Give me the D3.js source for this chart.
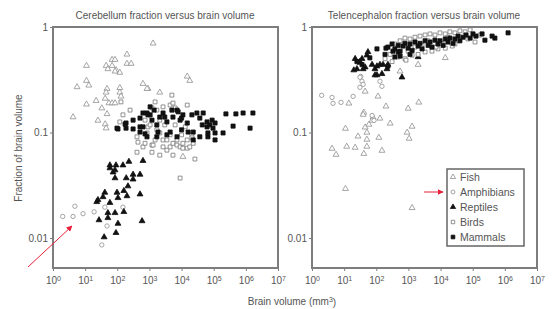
<!DOCTYPE html>
<html lang="en">
<head>
<meta charset="UTF-8">
<title>Cerebellum and telencephalon fraction</title>
<script src="https://d3js.org/d3.v7.min.js"></script>
<style>
  body { margin: 0; background: #fff; }
  text { font-family: "Liberation Sans", Arial, sans-serif; fill: #555; }
  .frame { fill: none; stroke: #7d7d7d; stroke-width: 2; }
  .tick line { stroke: #7d7d7d; }
  .domain { display: none; }
</style>
</head>
<body>
<script>
// [brain volume mm3, fraction]
var cerebFish = [[1300,0.70],[200,0.55],[69,0.49],[85,0.49],[200,0.45],[270,0.45],[11,0.43],[45,0.43],[51,0.40],[69,0.43],
  [92,0.39],[120,0.37],[85,0.38],[11,0.31],[13,0.28],[5.6,0.27],[630,0.29],[900,0.26],[48,0.26],[45,0.24],[120,0.265],
  [120,0.24],[130,0.22],[22,0.20],[42,0.21],[55,0.19],[69,0.19],[85,0.19],[11,0.185],[33,0.17],[4.2,0.14],[25,0.13],
  [42,0.12],[45,0.11],[48,0.15],[15000,0.34],[18000,0.31],[2100,0.24],[840,0.26],[11000,0.059]];
var cerebAmph = [[2.0,0.016],[4.2,0.016],[4.8,0.020],[8.6,0.017],[19,0.0177],[41,0.0196],[48,0.013],[33,0.0086],[150,0.0196]];
var cerebRept = [[59,0.049],[91,0.049],[59,0.046],[85,0.044],[74,0.042],[150,0.049],[230,0.053],[630,0.054],[85,0.037],
  [190,0.037],[310,0.040],[310,0.036],[510,0.040],[215,0.031],[160,0.028],[98,0.027],[105,0.024],[200,0.025],[510,0.026],
  [41,0.027],[36,0.0245],[25,0.023],[23,0.022],[59,0.0216],[85,0.0173],[51,0.0173],[51,0.0155],[27,0.0148],
  [160,0.0177],[105,0.0137],[91,0.0112],[39,0.0102],[590,0.0145]];
var cerebBird = [[130,0.195],[150,0.147],[120,0.126],[250,0.163],[410,0.091],[410,0.065],[440,0.081],[630,0.073],[730,0.079],
  [840,0.099],[900,0.113],[1200,0.171],[1200,0.076],[1200,0.065],[1300,0.076],[1500,0.195],[1500,0.085],[1700,0.163],
  [1700,0.106],[2100,0.099],[2100,0.061],[2650,0.175],[2650,0.085],[2650,0.073],[3500,0.085],[3500,0.068],[4400,0.182],
  [4400,0.095],[4400,0.073],[5000,0.226],[5400,0.19],[5400,0.079],[5400,0.061],[6300,0.171],[7200,0.085],[7200,0.076],
  [9000,0.073],[9000,0.037],[10000,0.095],[11000,0.079],[11000,0.071],[15000,0.182],[15000,0.085],[15000,0.071],
  [18000,0.073],[21000,0.095],[21000,0.089],[23000,0.079],[26000,0.056],[3000,0.118],[2100,0.131],[730,0.131],
  [1050,0.118],[6300,0.118],[13000,0.113]];
var cerebMamm = [[98,0.11],[105,0.108],[175,0.12],[187,0.123],[187,0.11],[310,0.131],[310,0.108],[510,0.137],[510,0.113],
  [510,0.101],[630,0.153],[630,0.113],[730,0.097],[840,0.153],[840,0.091],[900,0.147],[1050,0.175],[1050,0.147],[1200,0.131],
  [1400,0.163],[1700,0.118],[1700,0.091],[1850,0.101],[2100,0.14],[2650,0.153],[3000,0.14],[3500,0.126],[3500,0.095],
  [4400,0.101],[5000,0.163],[5400,0.14],[7200,0.163],[7200,0.091],[7800,0.157],[9000,0.131],[10000,0.137],[10000,0.106],
  [11000,0.147],[15000,0.123],[16000,0.101],[21000,0.147],[23000,0.101],[23000,0.085],[30000,0.153],[37000,0.137],
  [37000,0.091],[44000,0.118],[47000,0.153],[62000,0.126],[62000,0.113],[66000,0.099],[66000,0.091],[76000,0.118],
  [89000,0.131],[95000,0.11],[110000,0.123],[110000,0.099],[110000,0.085],[195000,0.099],[240000,0.15],[400000,0.115],
  [490000,0.15],[820000,0.153],[1350000,0.11],[1660000,0.153]];

var telFish = [[14,0.189],[200,0.177],[980,0.169],[2100,0.193],[41,0.155],[130,0.136],[270,0.122],[1300,0.114],[11,0.109],
  [45,0.112],[51,0.10],[27,0.092],[51,0.0858],[120,0.0895],[910,0.10],[1050,0.0877],[4.2,0.0704],[12,0.0736],[22,0.072],
  [51,0.0736],[150,0.0674],[5.6,0.0617],[41,0.063],[11,0.0293],[1300,0.0193],[14000,0.51],[2000,0.44],[550,0.38],
  [45,0.245],[39,0.148],[79,0.139],[59,0.119],[74,0.13],[113,0.22]];
var telAmph = [[2.0,0.225],[4.2,0.215],[4.5,0.189],[8.0,0.193],[19,0.22],[31,0.268],[36,0.306],[33,0.34],[39,0.286],
  [130,0.306],[150,0.274],[31,0.334],[74,0.145],[85,0.13]];
var telRept = [[25,0.40],[31,0.46],[36,0.50],[51,0.54],[55,0.58],[74,0.44],[45,0.416],[91,0.40],[105,0.35],[150,0.36],
  [630,0.334],[162,0.44],[230,0.44],[22,0.50],[20,0.39],[39,0.40],[105,0.425],[130,0.44],[91,0.35],[215,0.40],[2000,0.52],[31,0.47]];
var telBird = [[550,0.74],[780,0.785],[1120,0.77],[1600,0.80],[2300,0.82],[3300,0.84],[4700,0.86],[6700,0.84],[9600,0.88],
  [14000,0.86],[19500,0.90],[28000,0.88],[40000,0.92],[58000,0.90],[83000,0.94],[480,0.52],[780,0.50],[1300,0.54],
  [2000,0.55],[3300,0.58],[5400,0.59],[8300,0.62],[14000,0.63],[23000,0.66],[187,0.50],[310,0.47],[980,0.59],[2650,0.67],
  [7200,0.645],[17000,0.80],[35000,0.74],[71000,0.77],[118000,0.72],[840,0.485],[380,0.69],[270,0.55],[1600,0.645],
  [4100,0.74],[11000,0.70],[28000,0.69],[170000,0.84]];
var telMamm = [[25,0.47],[36,0.44],[105,0.62],[200,0.63],[330,0.59],[480,0.58],[230,0.645],[310,0.69],[380,0.62],[480,0.67],
  [550,0.59],[680,0.66],[780,0.70],[980,0.63],[1120,0.69],[1300,0.60],[1600,0.72],[2000,0.66],[2300,0.70],[2650,0.62],
  [3300,0.74],[4100,0.67],[4700,0.72],[5400,0.645],[6700,0.75],[8300,0.69],[9600,0.74],[12000,0.67],[14000,0.77],
  [17000,0.72],[19500,0.785],[24500,0.70],[28000,0.77],[35000,0.82],[40000,0.74],[50000,0.80],[62000,0.84],[83000,0.785],
  [102000,0.86],[126000,0.82],[187,0.55],[550,0.53],[1120,0.55],[380,0.52],[63,0.51],[230,0.425],
  [195000,0.86],[240000,0.75],[400000,0.82],[490000,0.785],[1260000,0.88]];

var groups = ["Fish", "Amphibians", "Reptiles", "Birds", "Mammals"];
var xTicks = [1, 1e1, 1e2, 1e3, 1e4, 1e5, 1e6, 1e7];
var yTicks = [1, 0.1, 0.01];

var svg = d3.select("body").append("svg").attr("width", 553).attr("height", 309);

var style = {
  Fish: {type: d3.symbolTriangle, size: 15, fill: "#fff", stroke: "#8f8f8f"},
  Amphibians: {type: d3.symbolCircle, size: 15, fill: "#fff", stroke: "#8f8f8f"},
  Reptiles: {type: d3.symbolTriangle, size: 15, fill: "#111", stroke: "#111"},
  Birds: {type: d3.symbolSquare, size: 15, fill: "#fff", stroke: "#777"},
  Mammals: {type: d3.symbolSquare, size: 17, fill: "#111", stroke: "#111"}
};

function panel(left, title, sets) {
  var x = d3.scaleLog().domain([1, 1e7]).range([left, left + 225]);
  var y = d3.scaleLog().domain([1, 0.01]).range([27, 238]);
  var g = svg.append("g");

  g.append("text").attr("x", left + 112).attr("y", 19).attr("text-anchor", "middle")
    .attr("font-size", 10).text(title);

  var xa = g.append("g").attr("transform", "translate(0,268)")
    .call(d3.axisBottom(x).tickValues(xTicks).tickSize(3).tickPadding(6));
  xa.selectAll(".tick text").attr("font-size", 10).text(null).each(function(d) {
    var t = d3.select(this);
    t.append("tspan").text("10");
    t.append("tspan").attr("dy", "-0.5em").attr("font-size", 7).text(Math.round(Math.log10(d)));
  });

  var ya = g.append("g").attr("transform", "translate(" + left + ",0)")
    .call(d3.axisLeft(y).tickValues(yTicks).tickSize(3).tickPadding(2).tickFormat(d3.format("")));
  ya.selectAll(".tick text").attr("font-size", 10);

  groups.forEach(function(name, i) {
    var s = style[name];
    var sym = d3.symbol().type(s.type).size(s.size);
    g.append("g").selectAll("path").data(sets[i]).enter().append("path")
      .attr("transform", function(d) { return "translate(" + x(d[0]) + "," + y(d[1]) + ")"; })
      .attr("d", sym)
      .attr("fill", s.fill).attr("stroke", s.stroke).attr("stroke-width", 0.8);
  });

  g.append("rect").attr("class", "frame").attr("x", left).attr("y", 27)
    .attr("width", 225).attr("height", 241);
}

panel(53, "Cerebellum fraction versus brain volume", [cerebFish, cerebAmph, cerebRept, cerebBird, cerebMamm]);
panel(312, "Telencephalon fraction versus brain volume", [telFish, telAmph, telRept, telBird, telMamm]);

// axis titles
svg.append("text").attr("transform", "translate(22,148) rotate(-90)").attr("text-anchor", "middle")
  .attr("font-size", 10).text("Fraction of brain volume");
var xl = svg.append("text").attr("x", 292).attr("y", 305).attr("text-anchor", "middle").attr("font-size", 10);
xl.append("tspan").text("Brain volume (mm");
xl.append("tspan").attr("dy", "-0.45em").attr("font-size", 7).text("3");
xl.append("tspan").attr("dy", "0.45em").text(")");

// legend
var lg = svg.append("g").attr("transform", "translate(447,169)");
lg.append("rect").attr("width", 77).attr("height", 77).attr("fill", "#fff")
  .attr("stroke", "#666").attr("stroke-width", 1.5);
groups.forEach(function(name, i) {
  var s = style[name];
  lg.append("path").attr("transform", "translate(6," + (8 + i * 15) + ")")
    .attr("d", d3.symbol().type(s.type).size(s.size * 0.8)())
    .attr("fill", s.fill).attr("stroke", s.stroke).attr("stroke-width", 0.8);
  lg.append("text").attr("x", 13).attr("y", 12 + i * 15).attr("font-size", 10.5).attr("fill", "#444").text(name);
});

// red arrows
var defs = svg.append("defs");
defs.append("marker").attr("id", "ah").attr("viewBox", "0 0 10 10").attr("refX", 9).attr("refY", 5)
  .attr("markerWidth", 6).attr("markerHeight", 6).attr("orient", "auto")
  .append("path").attr("d", "M0,0L10,5L0,10z").attr("fill", "#e8203a");
svg.append("line").attr("x1", 28).attr("y1", 267).attr("x2", 72).attr("y2", 226)
  .attr("stroke", "#e8203a").attr("stroke-width", 1).attr("marker-end", "url(#ah)");
svg.append("line").attr("x1", 424).attr("y1", 192).attr("x2", 443).attr("y2", 192)
  .attr("stroke", "#e8203a").attr("stroke-width", 1).attr("marker-end", "url(#ah)");
</script>
</body>
</html>
